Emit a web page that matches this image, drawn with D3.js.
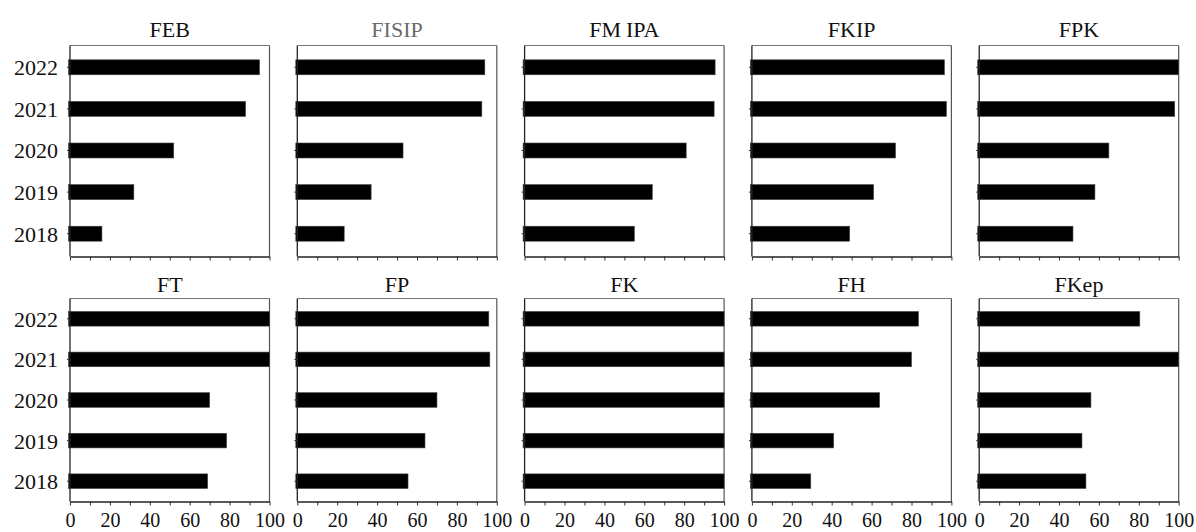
<!DOCTYPE html>
<html>
<head>
<meta charset="utf-8">
<script src="https://cdn.jsdelivr.net/npm/d3@7/dist/d3.min.js"></script>
<style>
  html, body { margin: 0; padding: 0; background: #fff; }
  svg { display: block; }
  text { font-family: "Liberation Serif", "Times New Roman", serif; }
</style>
</head>
<body>
<svg id="chart" width="1196" height="532"></svg>
<script>
// ---- Data ----
const faculties = ["FEB", "FISIP", "FMIPA", "FKIP", "FPK", "FT", "FP", "FK", "FH", "FKep"];
const years = ["2022", "2021", "2020", "2019", "2018"];
const xTickValues = [0, 20, 40, 60, 80, 100];

// values per faculty, ordered as in `years`
const FEB   = [95, 88, 52, 32, 16];
const FISIP = [94, 92.5, 53, 37, 23.5];
const FMIPA = [95.5, 95, 81, 64, 55];
const FKIP  = [96.5, 97.5, 72, 61, 49];
const FPK   = [100, 98, 65, 58, 47];
const FT    = [100, 100, 70, 78.5, 69];
const FP    = [96, 96.5, 70, 64, 55.5];
const FK    = [100, 100, 100, 100, 100];
const FH    = [83.5, 80, 64, 41, 29.5];
const FKep  = [80.5, 100, 56, 51.5, 53.5];

const seriesByFaculty = { FEB, FISIP, FMIPA, FKIP, FPK, FT, FP, FK, FH, FKep };

// ---- Layout ----
const svg = d3.select("#chart");
const panelW = 199.5;
const colX0 = 70, colStep = 227.3;
const rows = [
  { top: 45.5, bottom: 256.5, yr: [46.5, 254.5], titleY: 37 },
  { top: 298.5, bottom: 501.5, yr: [298.5, 501.5], titleY: 292 }
];

faculties.forEach((fac, i) => {
  const col = i % 5, row = Math.floor(i / 5);
  const R = rows[row];
  const x0 = colX0 + col * colStep;
  const x = d3.scaleLinear().domain([0, 100]).range([x0, x0 + panelW]);
  const y = d3.scaleBand().domain(years).range(R.yr).paddingInner(0.64).paddingOuter(0.32);
  const g = svg.append("g");
  const vals = seriesByFaculty[fac];

  // frame (top / right in gray)
  g.append("line").attr("x1", x(0)).attr("x2", x(100)).attr("y1", R.top).attr("y2", R.top)
    .attr("stroke", "#777").attr("stroke-width", 1.2);
  g.append("line").attr("x1", x(100)).attr("x2", x(100)).attr("y1", R.top).attr("y2", R.bottom)
    .attr("stroke", "#555").attr("stroke-width", 1.2);

  // bars
  g.selectAll("rect.bar").data(years).join("rect")
    .attr("class", "bar")
    .attr("x", x(0) - 1.5)
    .attr("y", d => y(d))
    .attr("width", (d, j) => x(vals[j]) - x(0) + 1.5)
    .attr("height", y.bandwidth())
    .attr("fill", "#000")
    .attr("stroke", "#444")
    .attr("stroke-width", 0.6);

  // y axis
  const yAxis = d3.axisLeft(y).tickSize(3).tickSizeOuter(0).tickPadding(9)
    .tickFormat(col === 0 ? (d => d) : () => "");
  const gy = g.append("g").attr("transform", `translate(${x(0)},0)`).call(yAxis);
  gy.select(".domain").remove();
  gy.append("line").attr("x1", 0).attr("x2", 0).attr("y1", R.top).attr("y2", R.bottom)
    .attr("stroke", "#222").attr("stroke-width", 1.3);
  gy.selectAll(".tick line").attr("stroke", "#333");
  gy.selectAll("text").attr("font-size", 22).attr("fill", "#111").attr("dy", "0.36em");

  // x axis
  const xAxis = d3.axisBottom(x).tickValues(d3.range(0, 101, 10)).tickSize(4).tickSizeOuter(0).tickPadding(7)
    .tickFormat(d => (row === 1 && xTickValues.includes(d)) ? d : "");
  const gx = g.append("g").attr("transform", `translate(0,${R.bottom})`).call(xAxis);
  gx.select(".domain").attr("stroke", "#222").attr("stroke-width", 1.3);
  gx.selectAll(".tick line").attr("stroke", "#333");
  gx.selectAll("text").attr("font-size", 20).attr("fill", "#111");

  // title
  const t = g.append("text")
    .attr("x", (x(0) + x(100)) / 2)
    .attr("y", R.titleY)
    .attr("text-anchor", "middle")
    .attr("font-size", 22)
    .attr("fill", fac === "FISIP" ? "#6b6b6b" : "#111");
  if (fac === "FMIPA") {
    t.append("tspan").text("FM");
    t.append("tspan").attr("dx", 5).text("IPA");
  } else {
    t.text(fac);
  }
});
</script>
</body>
</html>
